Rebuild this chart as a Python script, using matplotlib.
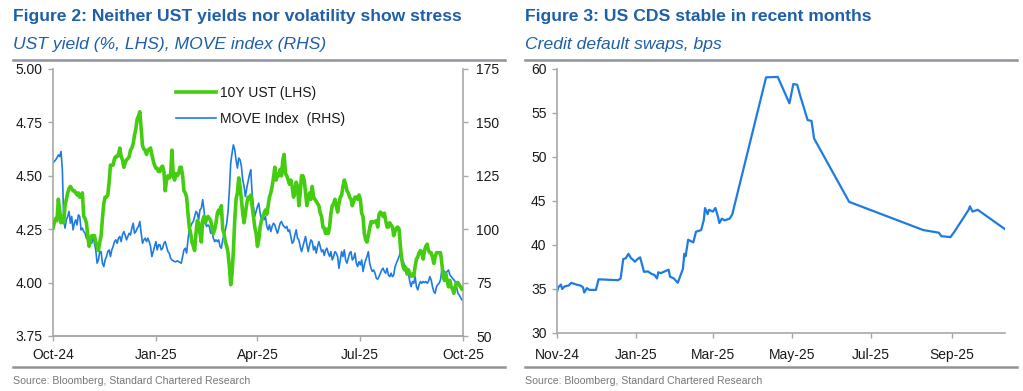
import matplotlib
matplotlib.use("Agg")
import matplotlib.pyplot as plt
import matplotlib.dates as mdates
import pandas as pd

plt.rcParams['font.family'] = ['Liberation Sans', 'DejaVu Sans']

# ---------------- Data: Figure 2 ----------------
ust_start, ust_end = '2024-10-01', '2025-09-30'
ust_10y = [
    4.255, 4.28, 4.30, 4.29, 4.39, 4.34, 4.28, 4.31, 4.28, 4.36,
    4.39, 4.42, 4.44, 4.45, 4.44, 4.43, 4.43, 4.42, 4.41, 4.42,
    4.40, 4.40, 4.42, 4.31, 4.30, 4.28, 4.22, 4.17, 4.20, 4.22,
    4.22, 4.22, 4.19, 4.17, 4.15, 4.19, 4.22, 4.30, 4.37, 4.40,
    4.40, 4.41, 4.47, 4.55, 4.55, 4.55, 4.58, 4.59, 4.59, 4.60,
    4.63, 4.59, 4.575, 4.54, 4.56, 4.575, 4.58, 4.59, 4.62, 4.63,
    4.65, 4.69, 4.72, 4.765, 4.78, 4.80, 4.72, 4.64, 4.625, 4.62,
    4.60, 4.62, 4.625, 4.63, 4.60, 4.57, 4.55, 4.535, 4.535, 4.52,
    4.52, 4.54, 4.545, 4.52, 4.43, 4.48, 4.50, 4.49, 4.50, 4.62,
    4.50, 4.48, 4.51, 4.50, 4.51, 4.54, 4.54, 4.50, 4.43, 4.42,
    4.40, 4.325, 4.26, 4.23, 4.19, 4.17, 4.15, 4.23, 4.29, 4.28,
    4.23, 4.19, 4.29, 4.31, 4.28, 4.30, 4.31, 4.30, 4.29, 4.26,
    4.23, 4.25, 4.28, 4.325, 4.34, 4.325, 4.36, 4.25, 4.23, 4.19,
    4.17, 4.14, 4.075, 3.99, 4.04, 4.15, 4.29, 4.39, 4.42, 4.49,
    4.45, 4.39, 4.325, 4.28, 4.325, 4.37, 4.40, 4.39, 4.41, 4.36,
    4.31, 4.26, 4.23, 4.17, 4.20, 4.26, 4.29, 4.31, 4.325, 4.34,
    4.32, 4.36, 4.40, 4.42, 4.45, 4.49, 4.54, 4.48, 4.51, 4.50,
    4.53, 4.50, 4.575, 4.60, 4.51, 4.50, 4.48, 4.46, 4.48, 4.45,
    4.40, 4.42, 4.47, 4.45, 4.36, 4.42, 4.50, 4.50, 4.48, 4.42,
    4.36, 4.39, 4.42, 4.39, 4.45, 4.40, 4.39, 4.38, 4.37, 4.36,
    4.325, 4.31, 4.26, 4.255, 4.23, 4.25, 4.23, 4.26, 4.325, 4.36,
    4.37, 4.39, 4.36, 4.33, 4.37, 4.40, 4.41, 4.45, 4.48, 4.46,
    4.43, 4.42, 4.40, 4.39, 4.36, 4.38, 4.40, 4.40, 4.39, 4.41,
    4.39, 4.325, 4.31, 4.23, 4.20, 4.19, 4.22, 4.255, 4.285, 4.28,
    4.285, 4.285, 4.29, 4.26, 4.32, 4.33, 4.325, 4.31, 4.325, 4.29,
    4.26, 4.26, 4.28, 4.27, 4.26, 4.22, 4.24, 4.255, 4.26, 4.25,
    4.17, 4.11, 4.075, 4.06, 4.07, 4.04, 4.06, 4.04, 4.03, 4.04,
    4.03, 4.075, 4.11, 4.12, 4.14, 4.15, 4.14, 4.11, 4.15, 4.17,
    4.18, 4.15, 4.14, 4.14, 4.12, 4.09, 4.12, 4.14, 4.14, 4.14,
    4.14, 4.09, 4.03, 4.01, 4.04, 4.01, 3.98, 4.01, 3.98, 3.97,
    3.95, 3.98, 4.00, 4.00, 3.99, 3.98, 3.97,
]
move_index = [
    131.0, 131.7, 132.5, 133.5, 134.8, 134.0, 136.4, 127.8, 104.4, 100.5,
    104.4, 106.0, 108.3, 102.8, 106.0, 99.7, 102.8, 104.4, 102.0, 106.7,
    106.0, 99.7, 100.5, 98.9, 98.1, 95.8, 98.1, 95.0, 95.8, 93.4,
    96.6, 93.4, 90.3, 84.1, 85.6, 89.5, 89.5, 84.1, 82.5, 85.6,
    87.2, 89.5, 90.3, 87.2, 90.3, 91.9, 94.2, 95.0, 93.4, 95.8,
    96.6, 94.2, 97.3, 98.9, 97.3, 95.0, 96.6, 98.1, 97.3, 100.5,
    102.8, 98.1, 98.9, 100.5, 101.3, 103.6, 98.1, 93.4, 95.0, 95.8,
    94.2, 95.8, 94.2, 91.9, 87.2, 89.5, 91.9, 94.2, 90.3, 92.7,
    92.7, 90.3, 91.1, 93.4, 94.2, 91.9, 89.5, 88.8, 86.4, 85.6,
    85.2, 84.8, 84.8, 85.2, 84.8, 84.4, 84.1, 87.2, 90.3, 91.1,
    88.8, 95.0, 99.7, 101.3, 102.8, 103.6, 106.0, 108.3, 107.5, 104.4,
    109.1, 109.8, 113.8, 109.1, 102.8, 101.3, 102.0, 101.3, 98.1, 98.9,
    95.8, 94.2, 95.0, 94.2, 95.0, 91.9, 91.1, 95.0, 97.3, 99.7,
    102.8, 108.3, 118.4, 130.9, 135.6, 139.5, 137.2, 132.5, 128.6, 133.3,
    132.5, 129.4, 123.1, 120.0, 115.3, 119.2, 122.3, 125.5, 127.8, 116.9,
    110.6, 106.0, 108.3, 110.6, 112.2, 107.5, 104.4, 106.0, 104.4, 106.0,
    101.3, 99.7, 102.0, 98.9, 101.3, 102.8, 102.0, 99.7, 98.1, 100.5,
    102.8, 103.6, 102.0, 101.3, 100.5, 101.3, 98.9, 99.7, 96.6, 93.4,
    94.2, 97.3, 99.7, 95.8, 95.0, 91.9, 89.5, 91.9, 94.2, 96.6,
    92.7, 89.5, 92.7, 95.0, 94.2, 90.3, 91.9, 88.8, 91.9, 94.2,
    91.9, 89.5, 90.3, 87.7, 90.3, 91.1, 88.8, 87.2, 89.5, 85.6,
    87.2, 89.5, 88.8, 87.2, 81.7, 85.6, 89.5, 87.2, 90.3, 85.6,
    84.1, 86.4, 88.8, 89.5, 85.6, 86.4, 88.8, 84.1, 82.5, 84.8,
    83.3, 85.6, 80.2, 83.3, 85.6, 87.2, 89.5, 84.1, 81.7, 80.2,
    80.9, 79.4, 77.0, 76.6, 77.8, 79.4, 80.9, 81.7, 80.2, 79.4,
    81.7, 78.6, 77.8, 79.4, 77.8, 78.6, 82.5, 84.1, 85.6, 87.2,
    89.5, 86.4, 84.8, 83.3, 82.5, 80.2, 79.4, 75.5, 73.1, 75.5,
    74.7, 77.8, 73.1, 71.6, 74.1, 75.5, 74.7, 75.5, 75.0, 75.5,
    74.7, 75.5, 77.8, 76.3, 73.1, 70.8, 70.0, 73.1, 74.1, 74.7,
    76.3, 80.9, 80.9, 80.2, 79.4, 80.2, 80.9, 78.6, 77.8, 77.0,
    76.3, 75.5, 73.1, 70.0, 69.2, 68.1, 66.9,
]
ust_label = '10Y UST (LHS)'
move_label = 'MOVE Index  (RHS)'

# ---------------- Data: Figure 3 ----------------
cds_dates = [
    '2024-11-01', '2024-11-02', '2024-11-04', '2024-11-05', '2024-11-07',
    '2024-11-10', '2024-11-12', '2024-11-16', '2024-11-19', '2024-11-21',
    '2024-11-22', '2024-11-24', '2024-11-26', '2024-12-01', '2024-12-03',
    '2024-12-18', '2024-12-20', '2024-12-22', '2024-12-24', '2024-12-26',
    '2024-12-28', '2024-12-29', '2024-12-31', '2025-01-02', '2025-01-04',
    '2025-01-07', '2025-01-10', '2025-01-13', '2025-01-15', '2025-01-17',
    '2025-01-18', '2025-01-20', '2025-01-23', '2025-01-26', '2025-01-27',
    '2025-01-30', '2025-02-02', '2025-02-04', '2025-02-06', '2025-02-07',
    '2025-02-08', '2025-02-10', '2025-02-14', '2025-02-16', '2025-02-20',
    '2025-02-22', '2025-02-23', '2025-02-25', '2025-02-26', '2025-03-01',
    '2025-03-03', '2025-03-05', '2025-03-06', '2025-03-08', '2025-03-10',
    '2025-03-14', '2025-03-16', '2025-04-11', '2025-04-20', '2025-04-29',
    '2025-05-02', '2025-05-05', '2025-05-07', '2025-05-13', '2025-05-16',
    '2025-05-18', '2025-06-14', '2025-08-10', '2025-08-22', '2025-08-24',
    '2025-08-31', '2025-09-03', '2025-09-14', '2025-09-15', '2025-09-17',
    '2025-09-21', '2025-10-12',
]
cds_values = [
    34.7, 35.2, 35.5, 35.0, 35.3,
    35.4, 35.7, 35.5, 35.4, 35.2,
    34.6, 35.1, 34.9, 34.9, 36.1,
    36.0, 36.2, 38.4, 38.5, 39.0,
    38.5, 38.4, 38.1, 38.4, 38.6,
    36.95, 37.0, 36.7, 36.6, 36.2,
    36.9, 36.8, 37.0, 37.2, 36.4,
    36.2, 35.7, 36.5, 37.3, 39.0,
    38.7, 40.6, 40.3, 41.5, 41.7,
    42.8, 44.2, 43.5, 44.0, 43.8,
    44.2, 43.2, 42.5, 43.0, 42.8,
    43.0, 43.5, 59.05, 59.1, 56.1,
    58.3, 58.2, 57.1, 54.2, 54.1,
    52.1, 44.9, 41.7, 41.4, 41.0,
    40.9, 41.5, 44.0, 44.4, 43.8,
    44.0, 41.8,
]

titles = ['Figure 2: Neither UST yields nor volatility show stress',
          'Figure 3: US CDS stable in recent months']
subtitles = ['UST yield (%, LHS), MOVE index (RHS)', 'Credit default swaps, bps']
source = 'Source: Bloomberg, Standard Chartered Research'

# ---------------- Styling ----------------
TITLE_BLUE = '#1f5eaa'
GREEN = '#43cc10'
BLUE = '#1e7be3'
SPINE = '#a8a8a8'
RULE = '#8d9399'
TXT = '#1a1a1a'

W, H = 1023, 391
fig = plt.figure(figsize=(W / 100, H / 100), dpi=100)


def fx(px):
    return px / W


def fy(py):
    return 1 - py / H


def style_axis(ax):
    for s in ['top', 'right', 'left', 'bottom']:
        ax.spines[s].set_visible(False)
    for s in ['bottom', 'left']:
        ax.spines[s].set_visible(True)
        ax.spines[s].set_color(SPINE)
        ax.spines[s].set_linewidth(1.2)
    ax.tick_params(axis='both', colors=SPINE, labelcolor=TXT, labelsize=10,
                   length=3.5, width=1.0, direction='out')
    ax.tick_params(axis='x', pad=5)
    ax.tick_params(axis='y', pad=4)


# Headers
for x0, x1, t, st in [(13, 505, titles[0], subtitles[0]), (525, 1017, titles[1], subtitles[1])]:
    fig.text(fx(x0), fy(16), t, color=TITLE_BLUE, fontsize=12.6, fontweight='bold',
             ha='left', va='center')
    fig.text(fx(x0), fy(44), st, color=TITLE_BLUE, fontsize=12.6, fontstyle='italic',
             ha='left', va='center')
    fig.add_artist(plt.Line2D([fx(x0), fx(x1)], [fy(60), fy(60)], color=RULE, lw=1.8))
    fig.add_artist(plt.Line2D([fx(x0), fx(x1)], [fy(367), fy(367)], color=RULE, lw=1.8))
    fig.text(fx(x0), fy(381), source, color='#777777', fontsize=7.6, ha='left', va='center')

# ---------------- Left chart ----------------
ust_dates = pd.date_range(ust_start, ust_end, periods=len(ust_10y))
move_dates = pd.date_range(ust_start, ust_end, periods=len(move_index))

ax1 = fig.add_axes([fx(53), fy(336), fx(463 - 53), (336 - 69) / H])
ax2 = ax1.twinx()
style_axis(ax1)
style_axis(ax2)
ax2.spines['left'].set_visible(False)
ax2.spines['right'].set_visible(True)
ax2.spines['right'].set_color(SPINE)
ax2.spines['right'].set_linewidth(1.2)

l2, = ax2.plot(move_dates, move_index, color=BLUE, lw=1.2, label=move_label, zorder=2)
l1, = ax1.plot(ust_dates, ust_10y, color=GREEN, lw=2.6, label=ust_label, zorder=3)
ax1.set_zorder(ax2.get_zorder() + 1)
ax1.patch.set_visible(False)

ax1.set_ylim(3.75, 5.00)
ax1.set_yticks([3.75, 4.00, 4.25, 4.50, 4.75, 5.00])
ax1.yaxis.set_major_formatter(matplotlib.ticker.FormatStrFormatter('%.2f'))
ax2.set_ylim(50, 175)
ax2.set_yticks([50, 75, 100, 125, 150, 175])
ax1.set_xlim(pd.Timestamp('2024-10-01'), pd.Timestamp('2025-10-01'))
ax1.set_xticks(pd.to_datetime(['2024-10-01', '2025-01-01', '2025-04-01', '2025-07-01', '2025-10-01']))
ax1.xaxis.set_major_formatter(mdates.DateFormatter('%b-%y'))
ax2.tick_params(axis='y', pad=6)

leg = ax1.legend(handles=[l1, l2], loc='upper left', bbox_to_anchor=(0.30, 0.935),
                 frameon=False, fontsize=10, handlelength=2.9, handletextpad=0.3,
                 labelspacing=0.85, borderpad=0, borderaxespad=0)
for t in leg.get_texts():
    t.set_color(TXT)

# ---------------- Right chart ----------------
ax3 = fig.add_axes([fx(557), fy(333), fx(1005 - 557), (333 - 69) / H])
style_axis(ax3)
ax3.plot(pd.to_datetime(cds_dates), cds_values, color=BLUE, lw=1.6)
ax3.set_ylim(30, 60)
ax3.set_yticks([30, 35, 40, 45, 50, 55, 60])
ax3.set_xlim(pd.Timestamp('2024-11-01'), pd.Timestamp('2025-10-12'))
ax3.set_xticks(pd.to_datetime(['2024-11-01', '2025-01-01', '2025-03-01', '2025-05-01',
                               '2025-07-01', '2025-09-01']))
ax3.xaxis.set_major_formatter(mdates.DateFormatter('%b-%y'))
ax3.tick_params(axis='x', pad=7)

fig.savefig('out.png', dpi=100)
